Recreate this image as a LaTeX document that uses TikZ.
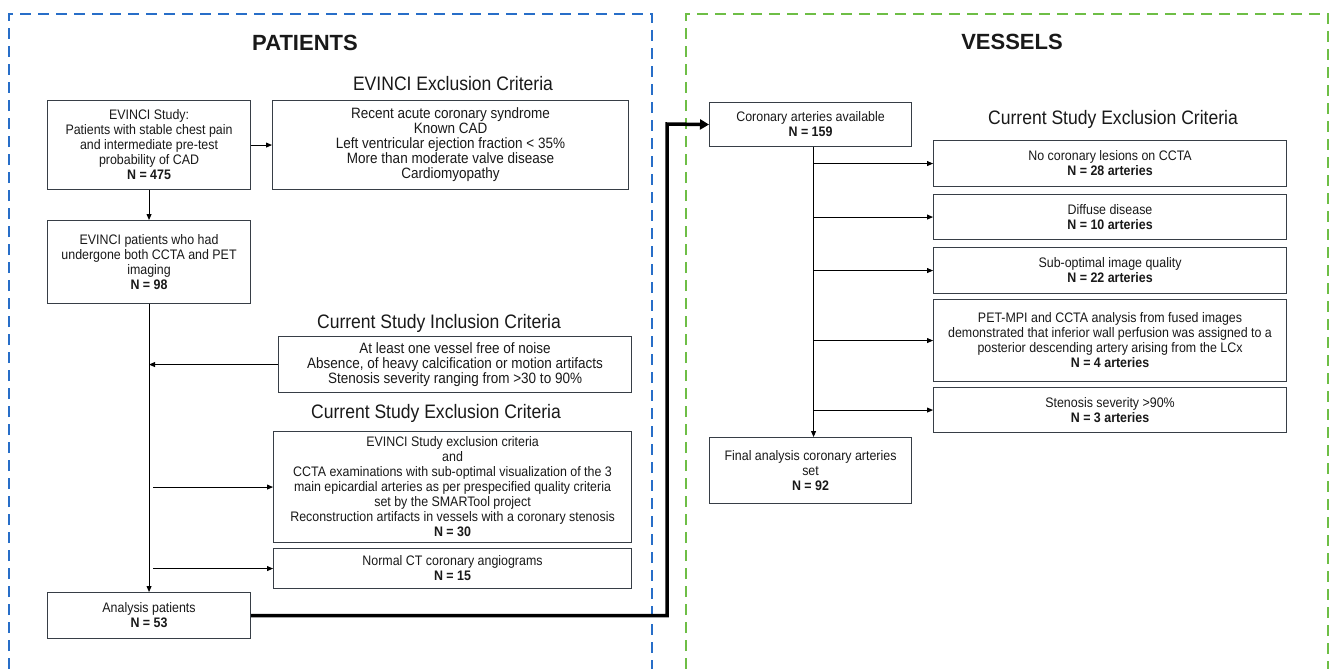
\documentclass[tikz,border=0pt]{standalone}
\usepackage{fontspec}
\setmainfont{Liberation Sans}
\newfontfamily\narrowfont[FakeStretch=0.9]{Liberation Sans}
\newcommand\myboxfont{\fontsize{13.8}{15}\narrowfont\lineskiplimit=-6pt\relax}
\newcommand\mybigfont{\fontsize{15}{15}\narrowfont\lineskiplimit=-6pt\relax}
\usetikzlibrary{arrows.meta}
\definecolor{bluedash}{RGB}{40,110,200}
\definecolor{greendash}{RGB}{110,190,70}
\definecolor{boxline}{RGB}{55,62,70}
\definecolor{txt}{RGB}{25,25,25}
\begin{document}
\begin{tikzpicture}[x=1pt,y=-1pt,
  box/.style={draw=boxline, line width=1.1pt, inner sep=0pt, anchor=north west, align=center, text=txt,
    font=\myboxfont},
  bigtxt/.style={font=\mybigfont},
  ttl/.style={text=txt, inner sep=0pt, font=\fontsize{19.5}{20}\narrowfont},
  sec/.style={text=txt, inner sep=0pt, font=\fontsize{22}{24}\selectfont\bfseries},
  arr/.style={draw=black, line width=0.9pt, -{Triangle[length=6pt,width=5pt]}},
  bigarr/.style={draw=black, line width=3.5pt, -{Triangle[length=9pt,width=10pt]}},
  frame/.style={line width=2.5pt, dash pattern=on 11pt off 7pt}
]
\useasboundingbox (0,0) rectangle (1333,669);
\fill[white] (0,0) rectangle (1333,669);

% frames
\draw[frame, draw=bluedash] (9,669) -- (9,14) -- (652,14) -- (652,669);
\draw[frame, draw=greendash] (686,669) -- (686,14) -- (1328,14) -- (1328,669);

% section titles
\node[sec] (pat) at (305,43) {PATIENTS};
\node[sec] (ves) at (1012,42) {VESSELS};

% patients side
\node[ttl] (t1) at (453,84) {EVINCI Exclusion Criteria};
\node[box, minimum width=203pt, minimum height=89pt] (s1) at (47,100)
  {EVINCI Study:\\Patients with stable chest pain\\and intermediate pre-test\\probability of CAD\\\textbf{N = 475}};
\node[box, bigtxt, minimum width=356pt, minimum height=89pt] (ex1) at (272,100)
  {Recent acute coronary syndrome\\Known CAD\\Left ventricular ejection fraction < 35\%\\More than moderate valve disease\\Cardiomyopathy};
\node[box, minimum width=203pt, minimum height=83pt] (s2) at (47,220)
  {EVINCI patients who had\\undergone both CCTA and PET\\imaging\\\textbf{N = 98}};

\node[ttl] (t2) at (439,323) {Current Study Inclusion Criteria};
\node[box, bigtxt, minimum width=353pt, minimum height=56pt] (inc) at (278,336)
  {At least one vessel free of noise\\Absence, of heavy calcification or motion artifacts\\Stenosis severity ranging from >30 to 90\%};

\node[ttl] (t3) at (436,413) {Current Study Exclusion Criteria};
\node[box, minimum width=358pt, minimum height=111pt] (ex2) at (273,431)
  {EVINCI Study exclusion criteria\\and\\CCTA examinations with sub-optimal visualization of the 3\\main epicardial arteries as per prespecified quality criteria\\set by the SMARTool project\\Reconstruction artifacts in vessels with a coronary stenosis\\\textbf{N = 30}};
\node[box, minimum width=358pt, minimum height=40pt] (ex3) at (273,548)
  {Normal CT coronary angiograms\\\textbf{N = 15}};
\node[box, minimum width=203pt, minimum height=46pt] (s3) at (47,592)
  {Analysis patients\\\textbf{N = 53}};

\draw[arr] (s1.east) -- (ex1.west);
\draw[arr] (s1.south) -- (s2.north);
\draw[arr] (s2.south) -- (s3.north);
\draw[arr] (inc.west) -- (inc.west -| s2.south);
\draw[arr] ([xshift=4pt]ex2.west -| s2.south) -- (ex2.west);
\draw[arr] ([xshift=4pt]ex3.west -| s2.south) -- (ex3.west);

% vessels side
\node[box, minimum width=202pt, minimum height=44pt] (v1) at (709,102)
  {Coronary arteries available\\\textbf{N = 159}};
\node[ttl] (t4) at (1113,119) {Current Study Exclusion Criteria};
\node[box, minimum width=353pt, minimum height=46pt] (r1) at (933,140)
  {No coronary lesions on CCTA\\\textbf{N = 28 arteries}};
\node[box, minimum width=353pt, minimum height=45pt] (r2) at (933,194)
  {Diffuse disease\\\textbf{N = 10 arteries}};
\node[box, minimum width=353pt, minimum height=46pt] (r3) at (933,247)
  {Sub-optimal image quality\\\textbf{N = 22 arteries}};
\node[box, minimum width=353pt, minimum height=82pt] (r4) at (933,299)
  {PET-MPI and CCTA analysis from fused images\\demonstrated that inferior wall perfusion was assigned to a\\posterior descending artery arising from the LCx\\\textbf{N = 4 arteries}};
\node[box, minimum width=353pt, minimum height=45pt] (r5) at (933,387)
  {Stenosis severity >90\%\\\textbf{N = 3 arteries}};
\node[box, minimum width=202pt, minimum height=66pt] (v2) at (709,437)
  {Final analysis coronary arteries\\set\\\textbf{N = 92}};

\coordinate (trunkT) at ([xshift=3pt]v1.south);
\coordinate (trunkB) at ([xshift=3pt]v2.north);
\draw[arr] (trunkT) -- (trunkB);
\draw[arr] (r1.west -| trunkT) -- (r1.west);
\draw[arr] (r2.west -| trunkT) -- (r2.west);
\draw[arr] (r3.west -| trunkT) -- (r3.west);
\draw[arr] (r4.west -| trunkT) -- (r4.west);
\draw[arr] (r5.west -| trunkT) -- (r5.west);

% thick connector
\coordinate (bend) at (667,124);
\draw[bigarr] (s3.east) -| (bend) -- (v1.west);
\end{tikzpicture}
\end{document}
